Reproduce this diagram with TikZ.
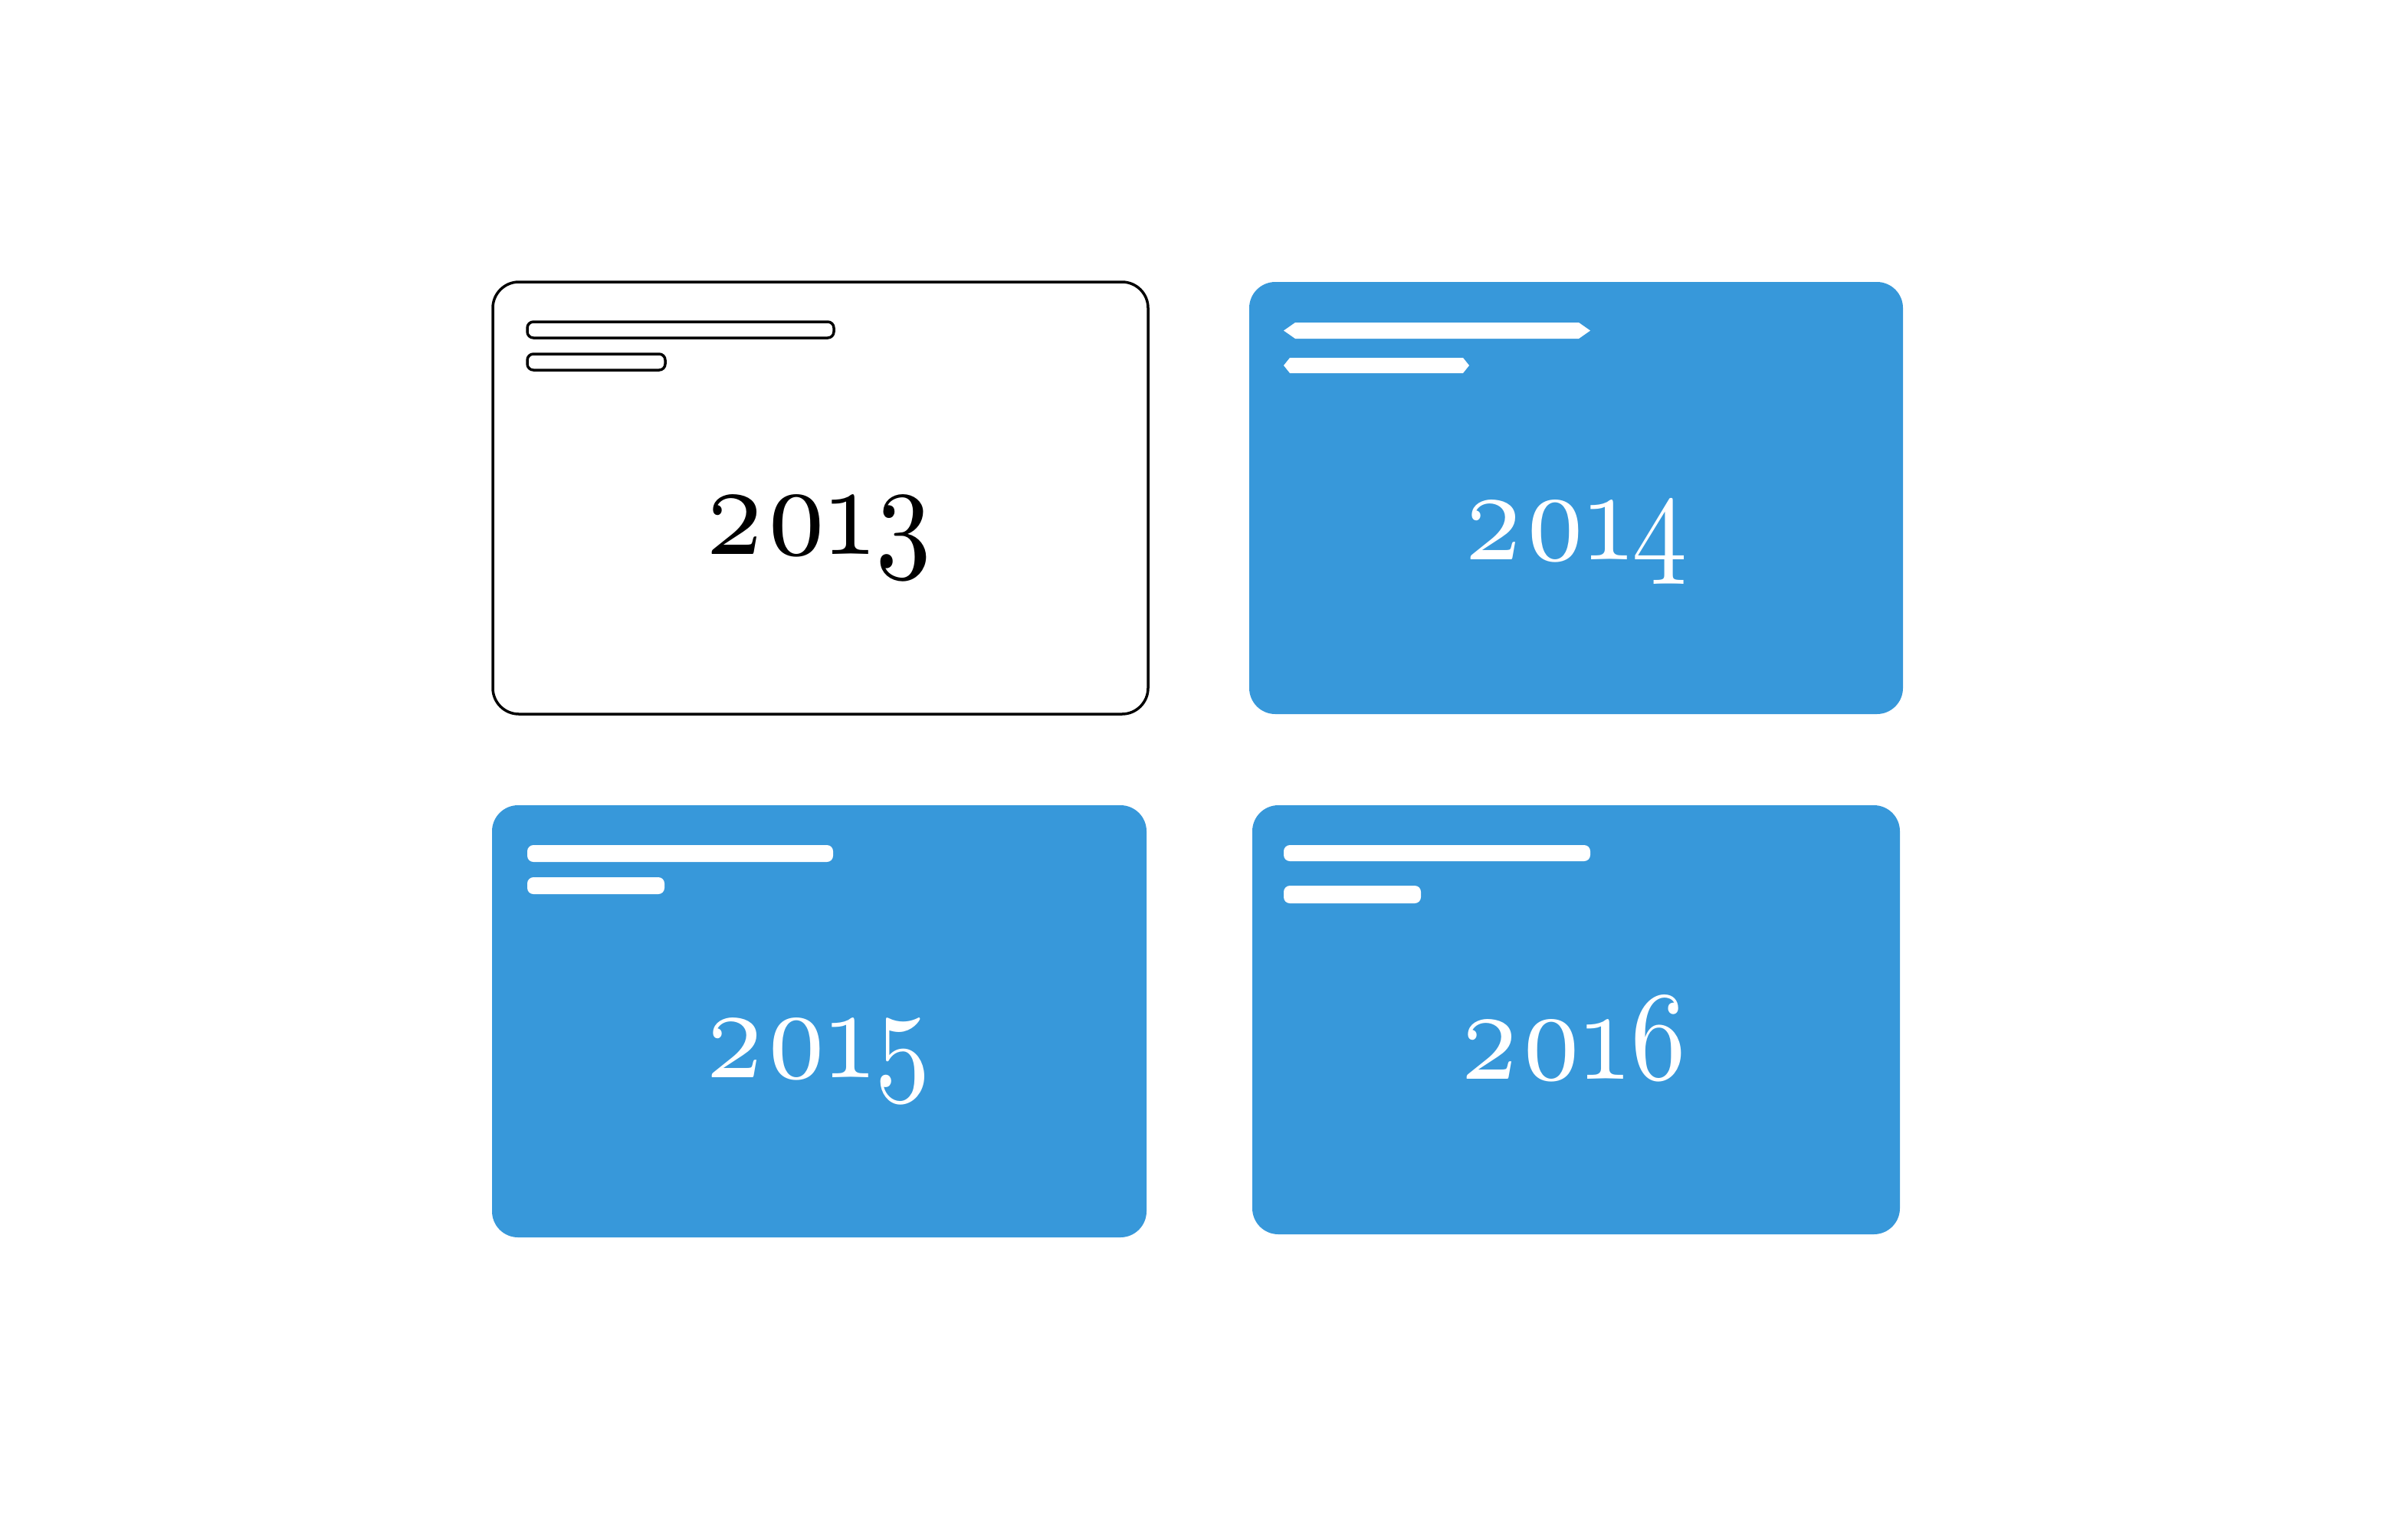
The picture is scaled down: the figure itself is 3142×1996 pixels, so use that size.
\documentclass[tikz,border=0pt]{standalone}
\usepackage{fontspec}
\usepackage{graphicx}
\newfontfamily\yearfont{lmroman10-regular.otf}[Numbers=OldStyle]
\definecolor{panelblue}{RGB}{55,152,218}
\tikzset{
	panel/.style={rounded corners=0.34cm},
	bar/.style={rounded corners=0.08cm},
	year/.style={anchor=base, inner sep=0pt, font=\yearfont\fontsize{47}{53}\selectfont},
}

\begin{document}
\begin{tikzpicture}[x=0.01cm, y=-0.01cm]
	\useasboundingbox (0, 0) rectangle (3142, 1996);
	%% 2013
	\draw[panel, line width=0.035cm] (643, 368) rectangle (1498, 932);
	\draw[bar, line width=0.035cm] (688, 420) rectangle (1088, 441);
	\draw[bar, line width=0.035cm] (688, 462) rectangle (868, 483);
	\node[year] (y2013) at (1069, 723) {\scalebox{0.87}[1]{2013}};
	%% 2014
	\fill[panel, panelblue] (1630, 368) rectangle (2483, 932);
	\fill[white] (1675, 431.5) -- (1690, 421) -- (2060, 421) -- (2075, 431.5) -- (2060, 442) -- (1690, 442) -- cycle;
	\fill[white] (1675, 477) -- (1683, 467) -- (1909, 467) -- (1917, 477) -- (1909, 487) -- (1683, 487) -- cycle;
	\node[year, white] (y2014) at (2056, 730) {\scalebox{0.87}[1]{2014}};
	%% 2015
	\fill[panel, panelblue] (642, 1051) rectangle (1496, 1615);
	\fill[bar, white] (688, 1103) rectangle (1087, 1125);
	\fill[bar, white] (688, 1145) rectangle (867, 1167);
	\node[year, white] (y2015) at (1068, 1406) {\scalebox{0.87}[1]{2015}};
	%% 2016
	\fill[panel, panelblue] (1634, 1051) rectangle (2479, 1611);
	\fill[bar, white] (1675, 1103) rectangle (2075, 1124);
	\fill[bar, white] (1675, 1156) rectangle (1854, 1179);
	\node[year, white] (y2016) at (2054, 1408) {\scalebox{0.87}[1]{2016}};
\end{tikzpicture}
\end{document}
